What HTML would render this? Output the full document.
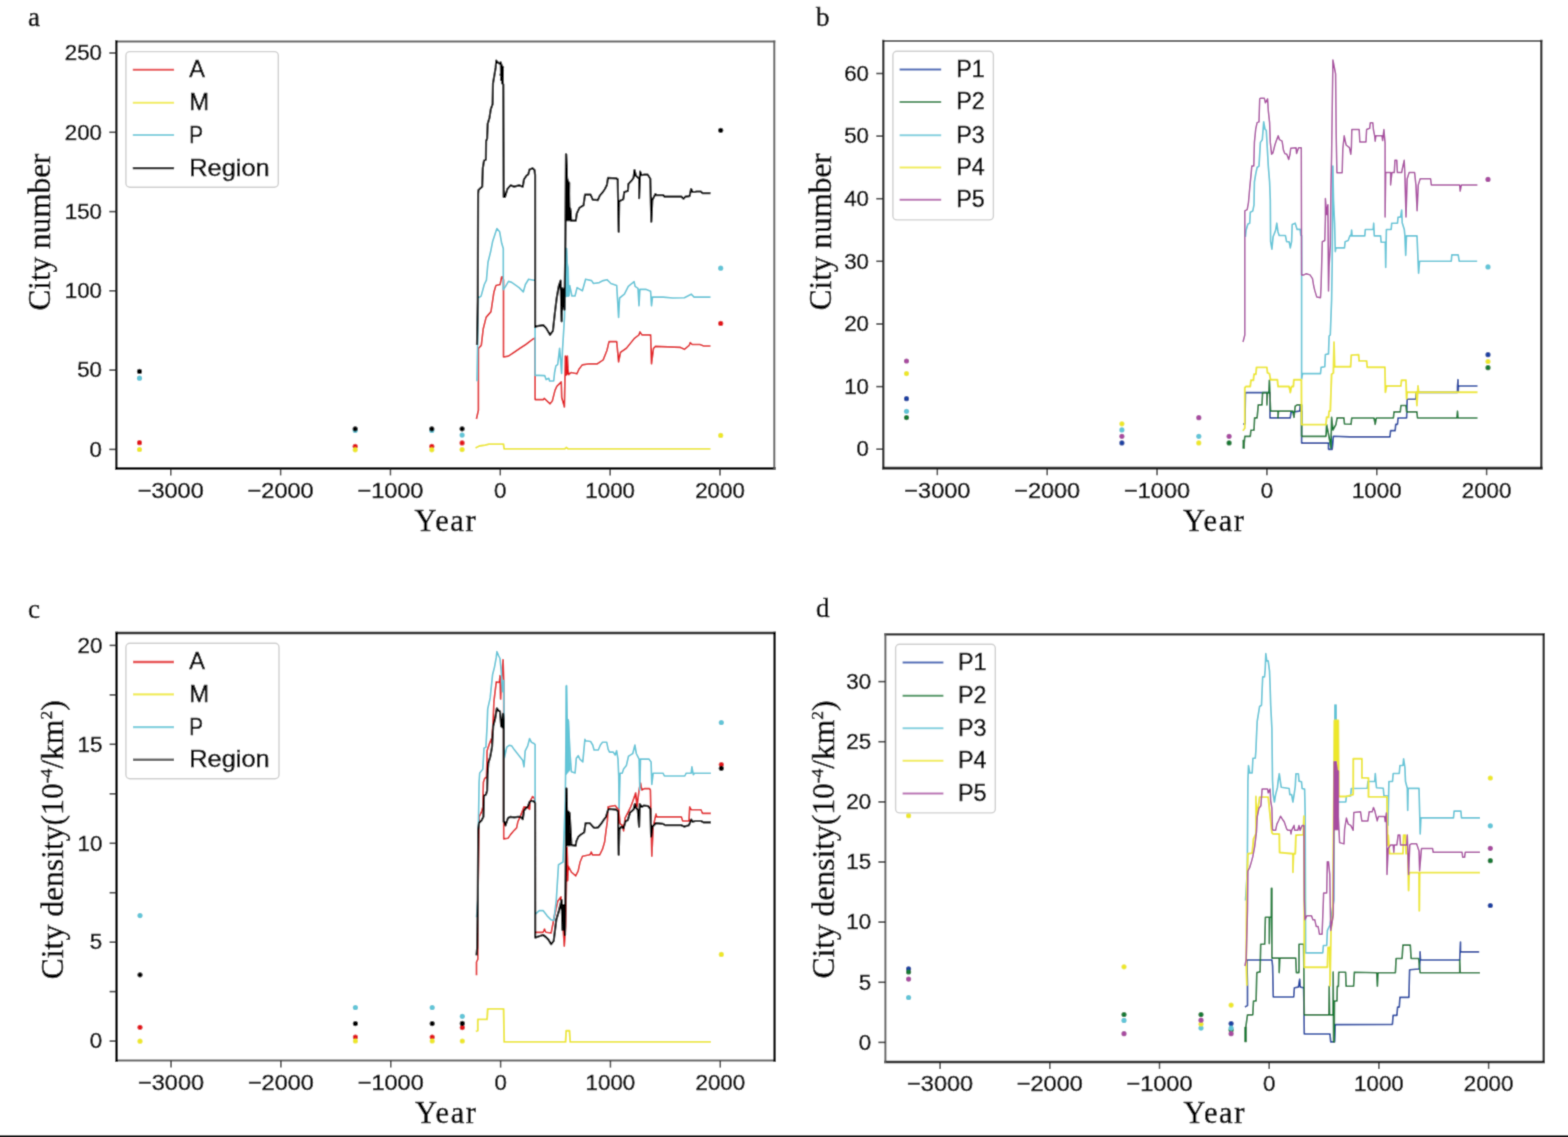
<!DOCTYPE html>
<html><head><meta charset="utf-8"><title>City number and density</title>
<style>html,body{margin:0;padding:0;background:#fff;}svg{display:block;}</style>
</head><body>
<svg width="1568" height="1137" viewBox="0 0 1568 1137" >
<rect width="1568" height="1137" fill="#fff"/>
<defs><filter id="soft" filterUnits="userSpaceOnUse" x="0" y="0" width="1568" height="1137"><feConvolveMatrix order="3" kernelMatrix="1 5 1 5 22 5 1 5 1" divisor="46" edgeMode="duplicate"/></filter></defs>
<g filter="url(#soft)"><rect width="1568" height="1137" fill="#fff"/>
<polyline points="476.4,419.0 478.4,410.2 478.4,348.3 481.3,345.4 483.2,329.0 486.1,317.4 491.0,311.6 493.9,292.2 495.9,285.5 500.1,284.5 501.6,276.8 502.7,277.1 503.5,280.0 503.5,357.0 508.4,356.1 514.2,352.2 520.0,348.3 525.8,344.5 533.5,338.7 535.1,338.0 535.1,399.6 543.2,399.6 544.3,398.4 550.1,403.8 552.3,401.0 555.0,390.4 556.8,386.3 561.3,381.9 561.7,397.5 564.4,406.9 565.4,356.1 566.5,370.0 567.4,356.0 568.0,368.9 568.8,374.7 571.1,372.5 576.9,373.8 579.1,368.9 582.2,364.9 589.6,363.8 597.4,363.8 603.2,359.9 607.0,350.3 609.0,341.6 616.7,341.6 618.6,361.9 620.6,352.2 626.4,348.3 634.1,338.7 639.0,334.8 639.9,331.9 641.9,334.8 650.6,334.8 651.5,363.8 653.5,348.3 655.4,346.4 680.5,347.4 684.4,349.3 689.2,345.4 690.2,342.5 692.2,344.5 699.9,344.5 703.8,346.0 710.5,346.0" fill="none" stroke="#e2181b" stroke-width="1.65" stroke-linejoin="round" stroke-linecap="butt"/>
<polygon points="565.2,356.0 566.6,356.0 567.6,366.0 568.4,374.0 566.0,376.0" fill="#e2181b" stroke="#e2181b" stroke-width="0.6" stroke-linejoin="round"/>
<polyline points="475.5,448.0 479.3,446.0 485.1,445.1 489.0,444.1 503.5,444.1 504.1,448.9 564.5,448.9 566.4,447.4 568.3,448.9 710.5,448.9" fill="none" stroke="#ede72a" stroke-width="1.90" stroke-linejoin="round" stroke-linecap="butt"/>
<polyline points="477.0,381.2 478.4,298.0 481.1,296.1 484.3,284.5 486.4,280.2 488.0,262.3 490.6,251.8 492.7,241.2 496.9,228.5 499.6,231.7 501.7,243.3 503.3,248.6 503.3,289.7 505.4,286.6 508.5,281.3 511.7,282.4 519.1,287.6 523.3,291.9 525.4,284.5 528.6,279.2 533.9,280.2 535.1,280.2 535.1,375.4 538.9,375.4 544.7,375.6 546.1,379.6 548.8,378.3 549.6,381.0 553.7,381.0 554.6,372.5 555.9,365.8 557.7,364.5 559.6,348.3 561.6,373.5 562.5,350.0 564.5,317.4 565.4,259.3 566.6,248.6 567.4,267.1 568.3,296.1 569.7,285.5 571.9,296.0 575.0,296.0 577.1,287.6 582.4,290.8 585.6,279.2 591.6,280.6 593.5,283.5 599.3,282.6 603.2,280.6 607.0,279.7 610.9,283.5 616.7,285.5 618.6,317.4 619.6,298.0 624.4,294.2 628.3,286.4 634.1,281.6 635.1,286.4 638.0,288.4 639.0,305.8 639.9,289.3 645.7,289.3 650.6,291.3 651.5,305.8 652.5,297.1 663.1,297.1 672.8,298.0 684.4,297.7 691.2,294.2 694.1,297.1 710.5,297.1" fill="none" stroke="#62c5d7" stroke-width="1.65" stroke-linejoin="round" stroke-linecap="butt"/>
<polygon points="565.6,248.0 566.6,248.0 567.3,262.0 568.5,268.0 569.0,285.0 569.6,296.0 566.0,297.0" fill="#62c5d7" stroke="#62c5d7" stroke-width="0.6" stroke-linejoin="round"/>
<polyline points="477.0,345.0 477.8,300.0 478.1,194.0 478.5,190.0 482.2,186.6 482.8,168.2 484.0,160.8 485.9,159.6 486.1,141.1 487.1,138.6 487.7,123.9 489.5,117.7 490.8,109.1 492.6,104.2 493.0,83.2 494.5,74.6 495.7,67.2 496.3,60.5 497.5,62.3 499.4,63.5 500.6,62.3 501.9,66.0 503.1,67.2 500.5,75.0 502.5,68.0 501.0,80.0 503.0,70.0 502.0,83.0 503.3,84.5 503.7,197.0 505.0,197.0 507.4,189.0 510.5,185.4 514.2,186.6 519.1,185.4 522.8,186.6 524.0,179.3 526.5,175.6 528.3,174.3 529.6,169.4 532.6,168.2 534.5,170.0 535.1,175.0 535.1,327.1 537.4,326.1 543.2,325.1 546.1,328.0 550.0,334.8 552.9,330.9 554.8,313.5 556.7,298.0 558.7,286.4 560.6,280.6 561.6,321.3 562.5,288.4 564.5,309.6 565.4,240.0 566.1,154.3 567.1,180.8 566.5,200.0 568.0,185.0 567.2,215.0 569.2,182.9 568.5,210.0 570.2,208.4 570.7,211.4 571.2,220.6 575.8,220.6 576.8,213.5 579.4,207.9 583.5,205.3 585.0,194.6 590.6,194.6 592.7,199.7 597.8,200.2 599.8,195.6 602.9,192.0 604.9,189.0 606.9,184.9 608.0,177.8 616.1,178.3 617.7,179.3 618.7,231.8 619.2,201.2 623.3,199.2 624.3,192.0 627.9,191.0 628.4,183.9 631.4,180.8 633.5,177.8 634.5,170.1 636.0,175.7 639.1,178.8 639.1,198.2 640.1,171.6 641.6,175.2 643.7,174.7 647.8,174.7 650.3,178.8 651.3,221.6 652.3,200.2 655.4,194.1 656.4,195.1 663.1,195.1 664.6,196.6 681.4,196.6 683.5,198.7 685.5,196.6 689.6,196.1 691.1,189.0 692.7,192.0 694.7,192.0 696.7,191.5 700.8,191.5 702.3,193.1 710.5,193.1" fill="none" stroke="#000000" stroke-width="2.20" stroke-linejoin="round" stroke-linecap="butt"/>
<polygon points="565.3,154.0 566.7,154.0 567.6,178.0 569.5,183.0 570.2,208.0 570.9,213.0 571.0,221.0 566.2,221.0 565.3,221.0" fill="#000000" stroke="#000000" stroke-width="0.6" stroke-linejoin="round"/>
<polygon points="500.0,63.0 501.9,66.0 503.1,67.2 503.6,84.0 501.5,82.0 500.3,72.0" fill="#000000" stroke="#000000" stroke-width="0.6" stroke-linejoin="round"/>
<circle cx="139.5" cy="442.7" r="2.6" fill="#e2181b"/>
<circle cx="139.5" cy="449.5" r="2.6" fill="#ede72a"/>
<circle cx="139.5" cy="378.2" r="2.6" fill="#62c5d7"/>
<circle cx="139.5" cy="371.4" r="2.6" fill="#000000"/>
<circle cx="355.2" cy="446.3" r="2.6" fill="#e2181b"/>
<circle cx="355.2" cy="449.8" r="2.6" fill="#ede72a"/>
<circle cx="355.2" cy="430.5" r="2.6" fill="#62c5d7"/>
<circle cx="355.2" cy="428.8" r="2.6" fill="#000000"/>
<circle cx="431.8" cy="446.3" r="2.6" fill="#e2181b"/>
<circle cx="431.8" cy="449.8" r="2.6" fill="#ede72a"/>
<circle cx="431.8" cy="430.5" r="2.6" fill="#62c5d7"/>
<circle cx="431.8" cy="428.8" r="2.6" fill="#000000"/>
<circle cx="462.1" cy="442.9" r="2.6" fill="#e2181b"/>
<circle cx="462.1" cy="449.6" r="2.6" fill="#ede72a"/>
<circle cx="462.1" cy="435.1" r="2.6" fill="#62c5d7"/>
<circle cx="462.1" cy="428.8" r="2.6" fill="#000000"/>
<circle cx="720.7" cy="323.4" r="2.6" fill="#e2181b"/>
<circle cx="720.7" cy="435.4" r="2.6" fill="#ede72a"/>
<circle cx="720.7" cy="268.2" r="2.6" fill="#62c5d7"/>
<circle cx="720.7" cy="130.3" r="2.6" fill="#000000"/>
<line x1="116.30" y1="41.40" x2="774.30" y2="41.40" stroke="#606060" stroke-width="2.00" stroke-linecap="square"/>
<line x1="116.30" y1="468.40" x2="774.30" y2="468.40" stroke="#000" stroke-width="2.70" stroke-linecap="square"/>
<line x1="116.30" y1="41.40" x2="116.30" y2="468.40" stroke="#000" stroke-width="2.50" stroke-linecap="square"/>
<line x1="774.30" y1="41.40" x2="774.30" y2="468.40" stroke="#606060" stroke-width="2.00" stroke-linecap="square"/>
<line x1="109.30" y1="449.40" x2="116.30" y2="449.40" stroke="#333" stroke-width="1.6"/>
<text x="102.00" y="456.60" style="font-family:&quot;Liberation Sans&quot;,sans-serif;font-size:22.00px" stroke="#000" stroke-width="0.5" text-anchor="end" textLength="12.41" lengthAdjust="spacingAndGlyphs">0</text>
<line x1="109.30" y1="370.10" x2="116.30" y2="370.10" stroke="#333" stroke-width="1.6"/>
<text x="102.00" y="377.30" style="font-family:&quot;Liberation Sans&quot;,sans-serif;font-size:22.00px" stroke="#000" stroke-width="0.5" text-anchor="end" textLength="24.81" lengthAdjust="spacingAndGlyphs">50</text>
<line x1="109.30" y1="290.80" x2="116.30" y2="290.80" stroke="#333" stroke-width="1.6"/>
<text x="102.00" y="298.00" style="font-family:&quot;Liberation Sans&quot;,sans-serif;font-size:22.00px" stroke="#000" stroke-width="0.5" text-anchor="end" textLength="37.22" lengthAdjust="spacingAndGlyphs">100</text>
<line x1="109.30" y1="211.60" x2="116.30" y2="211.60" stroke="#333" stroke-width="1.6"/>
<text x="102.00" y="218.80" style="font-family:&quot;Liberation Sans&quot;,sans-serif;font-size:22.00px" stroke="#000" stroke-width="0.5" text-anchor="end" textLength="37.22" lengthAdjust="spacingAndGlyphs">150</text>
<line x1="109.30" y1="132.30" x2="116.30" y2="132.30" stroke="#333" stroke-width="1.6"/>
<text x="102.00" y="139.50" style="font-family:&quot;Liberation Sans&quot;,sans-serif;font-size:22.00px" stroke="#000" stroke-width="0.5" text-anchor="end" textLength="37.22" lengthAdjust="spacingAndGlyphs">200</text>
<line x1="109.30" y1="53.00" x2="116.30" y2="53.00" stroke="#333" stroke-width="1.6"/>
<text x="102.00" y="60.20" style="font-family:&quot;Liberation Sans&quot;,sans-serif;font-size:22.00px" stroke="#000" stroke-width="0.5" text-anchor="end" textLength="37.22" lengthAdjust="spacingAndGlyphs">250</text>
<line x1="170.75" y1="468.40" x2="170.75" y2="475.40" stroke="#333" stroke-width="1.5"/>
<text x="170.75" y="497.70" style="font-family:&quot;Liberation Sans&quot;,sans-serif;font-size:22.00px" stroke="#000" stroke-width="0.5" text-anchor="middle" textLength="65.97" lengthAdjust="spacingAndGlyphs">−3000</text>
<line x1="280.60" y1="468.40" x2="280.60" y2="475.40" stroke="#333" stroke-width="1.5"/>
<text x="280.60" y="497.70" style="font-family:&quot;Liberation Sans&quot;,sans-serif;font-size:22.00px" stroke="#000" stroke-width="0.5" text-anchor="middle" textLength="65.97" lengthAdjust="spacingAndGlyphs">−2000</text>
<line x1="390.45" y1="468.40" x2="390.45" y2="475.40" stroke="#333" stroke-width="1.5"/>
<text x="390.45" y="497.70" style="font-family:&quot;Liberation Sans&quot;,sans-serif;font-size:22.00px" stroke="#000" stroke-width="0.5" text-anchor="middle" textLength="65.97" lengthAdjust="spacingAndGlyphs">−1000</text>
<line x1="500.30" y1="468.40" x2="500.30" y2="475.40" stroke="#333" stroke-width="1.5"/>
<text x="500.30" y="497.70" style="font-family:&quot;Liberation Sans&quot;,sans-serif;font-size:22.00px" stroke="#000" stroke-width="0.5" text-anchor="middle" textLength="12.41" lengthAdjust="spacingAndGlyphs">0</text>
<line x1="610.15" y1="468.40" x2="610.15" y2="475.40" stroke="#333" stroke-width="1.5"/>
<text x="610.15" y="497.70" style="font-family:&quot;Liberation Sans&quot;,sans-serif;font-size:22.00px" stroke="#000" stroke-width="0.5" text-anchor="middle" textLength="49.63" lengthAdjust="spacingAndGlyphs">1000</text>
<line x1="720.00" y1="468.40" x2="720.00" y2="475.40" stroke="#333" stroke-width="1.5"/>
<text x="720.00" y="497.70" style="font-family:&quot;Liberation Sans&quot;,sans-serif;font-size:22.00px" stroke="#000" stroke-width="0.5" text-anchor="middle" textLength="49.63" lengthAdjust="spacingAndGlyphs">2000</text>
<rect x="125.90" y="51.60" width="152.40" height="135.60" rx="4" ry="4" fill="#fff" fill-opacity="0.8" stroke="#cfcfcf" stroke-width="1.4"/>
<line x1="132.80" y1="69.80" x2="174.10" y2="69.80" stroke="#e2181b" stroke-width="2.00" stroke-opacity="0.8"/>
<text x="189.20" y="77.20" style="font-family:&quot;Liberation Sans&quot;,sans-serif;font-size:24.00px" stroke="#000" stroke-width="0.5" textLength="15.69" lengthAdjust="spacingAndGlyphs">A</text>
<line x1="132.80" y1="102.80" x2="174.10" y2="102.80" stroke="#ede72a" stroke-width="2.00" stroke-opacity="0.8"/>
<text x="189.20" y="110.20" style="font-family:&quot;Liberation Sans&quot;,sans-serif;font-size:24.00px" stroke="#000" stroke-width="0.5" textLength="19.79" lengthAdjust="spacingAndGlyphs">M</text>
<line x1="132.80" y1="135.10" x2="174.10" y2="135.10" stroke="#62c5d7" stroke-width="2.00" stroke-opacity="0.8"/>
<text x="189.20" y="142.50" style="font-family:&quot;Liberation Sans&quot;,sans-serif;font-size:24.00px" stroke="#000" stroke-width="0.5" textLength="13.83" lengthAdjust="spacingAndGlyphs">P</text>
<line x1="132.80" y1="168.10" x2="174.10" y2="168.10" stroke="#000000" stroke-width="2.40"/>
<text x="189.20" y="175.50" style="font-family:&quot;Liberation Sans&quot;,sans-serif;font-size:24.00px" stroke="#000" stroke-width="0.5" textLength="80.46" lengthAdjust="spacingAndGlyphs">Region</text>
<polyline points="1243.0,424.0 1245.0,424.0 1245.4,392.6 1270.0,392.6 1270.0,417.9 1290.3,417.9 1290.9,412.3 1299.6,411.1 1300.2,406.2 1300.8,411.1 1301.6,411.1 1301.6,443.1 1328.5,443.1 1328.5,449.3 1332.2,449.3 1333.4,436.3 1350.0,436.9 1390.0,436.9 1390.6,430.6 1395.2,430.6 1395.7,424.3 1397.5,424.3 1398.0,418.0 1406.6,418.0 1407.2,399.2 1415.7,399.2 1416.3,392.3 1457.5,392.3 1457.5,386.0 1458.0,379.7 1458.2,392.0 1458.5,386.0 1477.5,386.0" fill="none" stroke="#1a42a2" stroke-width="1.65" stroke-linejoin="round" stroke-linecap="butt"/>
<polyline points="1243.5,448.0 1244.2,443.1 1244.8,436.3 1250.3,436.3 1250.9,430.2 1254.0,430.2 1254.6,417.9 1257.1,417.9 1258.3,404.9 1262.0,404.9 1262.6,392.6 1266.9,392.6 1266.9,404.9 1267.5,392.6 1268.8,392.6 1269.4,380.3 1270.6,411.1 1278.0,411.1 1278.0,417.9 1278.5,411.1 1292.8,411.1 1294.0,417.3 1295.2,406.2 1297.1,404.9 1300.2,404.9 1301.6,404.9 1301.6,436.3 1326.0,436.3 1326.6,424.6 1327.9,430.8 1331.0,448.0 1331.6,417.3 1333.0,430.0 1335.9,424.6 1337.1,417.9 1343.9,417.9 1344.5,424.0 1351.1,424.3 1351.7,418.0 1374.0,418.0 1375.2,424.3 1376.3,418.0 1393.4,418.0 1394.0,411.8 1400.3,411.8 1400.9,405.5 1406.0,405.5 1406.6,411.8 1416.9,411.8 1417.5,418.0 1456.9,418.0 1457.5,411.2 1458.0,418.0 1477.5,418.0" fill="none" stroke="#167a34" stroke-width="1.65" stroke-linejoin="round" stroke-linecap="butt"/>
<polygon points="1242.8,440.0 1244.6,440.0 1244.6,448.5 1242.8,448.5" fill="#167a34" stroke="#167a34" stroke-width="0.6" stroke-linejoin="round"/>
<polyline points="1245.4,236.8 1246.0,230.6 1247.9,223.9 1249.7,223.2 1250.3,212.2 1252.8,210.9 1254.0,204.8 1254.4,182.0 1255.7,174.1 1257.1,167.5 1259.0,166.1 1260.4,142.4 1262.3,139.7 1263.7,121.9 1265.0,129.2 1266.3,130.5 1268.3,166.1 1269.6,182.0 1270.3,200.0 1270.6,241.7 1271.9,249.1 1273.1,236.8 1275.5,230.6 1276.8,223.2 1278.0,231.9 1279.2,235.5 1285.4,235.5 1286.6,241.7 1289.1,241.7 1290.3,247.9 1291.6,241.7 1292.2,224.5 1295.2,223.2 1297.1,229.4 1300.2,229.4 1300.8,235.5 1301.6,235.5 1301.6,379.1 1302.6,373.6 1320.5,373.6 1321.1,367.4 1324.8,366.8 1325.4,354.5 1328.5,353.9 1329.1,336.0 1330.3,334.8 1331.6,300.0 1332.2,263.9 1332.9,166.1 1333.5,200.0 1334.6,223.2 1335.3,251.6 1335.9,247.9 1344.5,247.9 1345.1,241.7 1348.2,240.5 1350.0,235.5 1351.1,235.9 1351.6,230.0 1352.1,235.9 1364.8,235.9 1365.3,229.5 1373.2,229.5 1373.7,223.2 1374.3,235.9 1380.6,235.9 1381.1,242.2 1385.3,242.2 1385.7,267.5 1386.4,229.5 1391.2,229.5 1391.7,223.2 1397.5,223.2 1398.0,217.4 1400.6,216.9 1401.7,210.0 1402.2,222.7 1404.3,229.5 1404.9,235.9 1405.7,255.4 1406.5,235.9 1417.0,235.9 1418.1,261.7 1418.6,273.3 1419.6,261.2 1451.3,261.2 1451.8,254.8 1458.2,254.8 1459.2,261.2 1477.2,261.2" fill="none" stroke="#62c5d7" stroke-width="1.65" stroke-linejoin="round" stroke-linecap="butt"/>
<polyline points="1242.9,430.8 1244.8,428.3 1244.8,387.7 1246.0,386.5 1250.3,386.5 1250.9,380.3 1253.4,380.3 1254.0,374.2 1255.9,374.2 1256.5,367.4 1266.9,367.4 1267.5,372.9 1269.4,373.6 1270.6,379.7 1277.4,379.7 1278.0,386.5 1289.1,386.5 1290.3,392.6 1291.6,386.5 1293.4,386.5 1293.8,379.7 1301.4,379.7 1301.6,424.6 1326.0,424.6 1326.6,417.3 1328.5,417.3 1329.1,411.1 1330.3,411.1 1331.6,374.2 1333.4,372.9 1334.0,342.2 1334.6,366.8 1335.9,366.8 1350.6,366.8 1351.3,355.1 1358.6,354.6 1359.1,360.9 1366.6,360.9 1367.2,367.2 1384.9,367.2 1385.4,392.3 1386.6,386.0 1400.9,386.0 1401.5,380.3 1406.0,380.3 1406.6,398.6 1407.2,392.3 1416.3,392.3 1416.9,405.5 1418.0,386.0 1418.6,392.3 1477.5,392.3" fill="none" stroke="#ede72a" stroke-width="1.90" stroke-linejoin="round" stroke-linecap="butt"/>
<polyline points="1243.0,342.0 1244.8,335.0 1244.8,210.9 1247.2,209.7 1248.5,202.3 1249.8,187.3 1251.1,174.1 1251.8,166.1 1253.8,166.1 1254.4,142.4 1255.7,129.2 1257.1,122.6 1259.0,121.9 1259.7,98.8 1260.4,98.2 1264.3,98.2 1265.4,102.8 1267.6,98.8 1268.3,110.7 1269.6,122.6 1270.3,142.4 1271.6,154.3 1272.9,153.0 1274.9,145.0 1276.2,141.1 1278.2,135.8 1279.5,139.7 1282.1,141.1 1283.5,150.3 1284.8,153.6 1286.8,154.3 1288.7,159.5 1290.0,154.3 1290.7,148.3 1296.0,147.7 1296.6,153.6 1298.6,147.7 1301.3,147.7 1301.6,274.9 1303.9,274.9 1306.3,273.7 1310.0,274.9 1312.5,278.6 1313.7,286.0 1314.9,290.9 1316.8,297.1 1320.5,297.7 1321.1,286.0 1322.3,241.7 1324.8,240.5 1325.4,218.3 1325.4,198.6 1326.6,214.6 1327.9,204.8 1328.5,291.0 1329.1,266.3 1330.3,245.4 1330.9,190.0 1331.6,155.6 1332.9,59.9 1335.6,73.8 1336.2,134.5 1336.9,172.7 1342.2,172.7 1342.8,149.0 1344.2,135.8 1346.1,145.0 1349.4,147.7 1350.8,154.3 1351.4,147.7 1351.8,129.5 1359.2,129.5 1359.8,141.9 1366.0,141.9 1366.6,129.5 1369.7,128.3 1370.3,122.8 1372.8,122.8 1373.4,129.5 1374.6,135.7 1375.2,141.2 1375.9,135.7 1382.0,135.7 1382.6,140.6 1383.9,129.5 1385.1,143.1 1385.1,217.0 1385.7,172.6 1390.6,172.6 1390.6,184.9 1391.9,172.6 1394.3,172.6 1394.9,160.3 1396.8,160.3 1397.4,172.6 1401.7,172.6 1402.3,168.9 1404.2,160.3 1404.8,172.6 1406.0,217.0 1407.2,178.8 1409.1,172.6 1414.6,172.6 1415.9,184.9 1417.1,210.8 1418.3,184.9 1420.2,178.8 1430.6,178.8 1431.3,184.9 1459.6,184.9 1460.2,191.1 1461.4,184.9 1477.4,184.9" fill="none" stroke="#a84ca0" stroke-width="1.50" stroke-linejoin="round" stroke-linecap="butt"/>
<circle cx="906.5" cy="398.7" r="2.6" fill="#1a42a2"/>
<circle cx="906.5" cy="411.3" r="2.6" fill="#62c5d7"/>
<circle cx="906.5" cy="417.6" r="2.6" fill="#167a34"/>
<circle cx="906.5" cy="373.6" r="2.6" fill="#ede72a"/>
<circle cx="906.5" cy="361.0" r="2.6" fill="#a84ca0"/>
<circle cx="1121.9" cy="442.9" r="2.6" fill="#1a42a2"/>
<circle cx="1121.9" cy="429.9" r="2.6" fill="#62c5d7"/>
<circle cx="1121.9" cy="423.8" r="2.6" fill="#ede72a"/>
<circle cx="1121.9" cy="436.3" r="2.6" fill="#a84ca0"/>
<circle cx="1198.8" cy="436.3" r="2.6" fill="#62c5d7"/>
<circle cx="1198.8" cy="442.9" r="2.6" fill="#ede72a"/>
<circle cx="1198.8" cy="417.7" r="2.6" fill="#a84ca0"/>
<circle cx="1229.1" cy="442.9" r="2.6" fill="#167a34"/>
<circle cx="1229.1" cy="436.3" r="2.6" fill="#a84ca0"/>
<circle cx="1488.0" cy="354.7" r="2.6" fill="#1a42a2"/>
<circle cx="1488.0" cy="367.7" r="2.6" fill="#167a34"/>
<circle cx="1488.0" cy="266.9" r="2.6" fill="#62c5d7"/>
<circle cx="1488.0" cy="361.5" r="2.6" fill="#ede72a"/>
<circle cx="1488.0" cy="179.4" r="2.6" fill="#a84ca0"/>
<line x1="883.30" y1="41.00" x2="1541.30" y2="41.00" stroke="#606060" stroke-width="2.00" stroke-linecap="square"/>
<line x1="883.30" y1="468.20" x2="1541.30" y2="468.20" stroke="#000" stroke-width="2.70" stroke-linecap="square"/>
<line x1="883.30" y1="41.00" x2="883.30" y2="468.20" stroke="#222" stroke-width="2.30" stroke-linecap="square"/>
<line x1="1541.30" y1="41.00" x2="1541.30" y2="468.20" stroke="#222" stroke-width="2.30" stroke-linecap="square"/>
<line x1="876.30" y1="449.20" x2="883.30" y2="449.20" stroke="#333" stroke-width="1.6"/>
<text x="869.00" y="456.40" style="font-family:&quot;Liberation Sans&quot;,sans-serif;font-size:22.00px" stroke="#000" stroke-width="0.5" text-anchor="end" textLength="12.41" lengthAdjust="spacingAndGlyphs">0</text>
<line x1="876.30" y1="386.60" x2="883.30" y2="386.60" stroke="#333" stroke-width="1.6"/>
<text x="869.00" y="393.80" style="font-family:&quot;Liberation Sans&quot;,sans-serif;font-size:22.00px" stroke="#000" stroke-width="0.5" text-anchor="end" textLength="24.81" lengthAdjust="spacingAndGlyphs">10</text>
<line x1="876.30" y1="324.00" x2="883.30" y2="324.00" stroke="#333" stroke-width="1.6"/>
<text x="869.00" y="331.20" style="font-family:&quot;Liberation Sans&quot;,sans-serif;font-size:22.00px" stroke="#000" stroke-width="0.5" text-anchor="end" textLength="24.81" lengthAdjust="spacingAndGlyphs">20</text>
<line x1="876.30" y1="261.30" x2="883.30" y2="261.30" stroke="#333" stroke-width="1.6"/>
<text x="869.00" y="268.50" style="font-family:&quot;Liberation Sans&quot;,sans-serif;font-size:22.00px" stroke="#000" stroke-width="0.5" text-anchor="end" textLength="24.81" lengthAdjust="spacingAndGlyphs">30</text>
<line x1="876.30" y1="198.70" x2="883.30" y2="198.70" stroke="#333" stroke-width="1.6"/>
<text x="869.00" y="205.90" style="font-family:&quot;Liberation Sans&quot;,sans-serif;font-size:22.00px" stroke="#000" stroke-width="0.5" text-anchor="end" textLength="24.81" lengthAdjust="spacingAndGlyphs">40</text>
<line x1="876.30" y1="136.10" x2="883.30" y2="136.10" stroke="#333" stroke-width="1.6"/>
<text x="869.00" y="143.30" style="font-family:&quot;Liberation Sans&quot;,sans-serif;font-size:22.00px" stroke="#000" stroke-width="0.5" text-anchor="end" textLength="24.81" lengthAdjust="spacingAndGlyphs">50</text>
<line x1="876.30" y1="73.50" x2="883.30" y2="73.50" stroke="#333" stroke-width="1.6"/>
<text x="869.00" y="80.70" style="font-family:&quot;Liberation Sans&quot;,sans-serif;font-size:22.00px" stroke="#000" stroke-width="0.5" text-anchor="end" textLength="24.81" lengthAdjust="spacingAndGlyphs">60</text>
<line x1="937.35" y1="468.20" x2="937.35" y2="475.20" stroke="#333" stroke-width="1.5"/>
<text x="937.35" y="497.50" style="font-family:&quot;Liberation Sans&quot;,sans-serif;font-size:22.00px" stroke="#000" stroke-width="0.5" text-anchor="middle" textLength="65.97" lengthAdjust="spacingAndGlyphs">−3000</text>
<line x1="1047.20" y1="468.20" x2="1047.20" y2="475.20" stroke="#333" stroke-width="1.5"/>
<text x="1047.20" y="497.50" style="font-family:&quot;Liberation Sans&quot;,sans-serif;font-size:22.00px" stroke="#000" stroke-width="0.5" text-anchor="middle" textLength="65.97" lengthAdjust="spacingAndGlyphs">−2000</text>
<line x1="1157.05" y1="468.20" x2="1157.05" y2="475.20" stroke="#333" stroke-width="1.5"/>
<text x="1157.05" y="497.50" style="font-family:&quot;Liberation Sans&quot;,sans-serif;font-size:22.00px" stroke="#000" stroke-width="0.5" text-anchor="middle" textLength="65.97" lengthAdjust="spacingAndGlyphs">−1000</text>
<line x1="1266.90" y1="468.20" x2="1266.90" y2="475.20" stroke="#333" stroke-width="1.5"/>
<text x="1266.90" y="497.50" style="font-family:&quot;Liberation Sans&quot;,sans-serif;font-size:22.00px" stroke="#000" stroke-width="0.5" text-anchor="middle" textLength="12.41" lengthAdjust="spacingAndGlyphs">0</text>
<line x1="1376.75" y1="468.20" x2="1376.75" y2="475.20" stroke="#333" stroke-width="1.5"/>
<text x="1376.75" y="497.50" style="font-family:&quot;Liberation Sans&quot;,sans-serif;font-size:22.00px" stroke="#000" stroke-width="0.5" text-anchor="middle" textLength="49.63" lengthAdjust="spacingAndGlyphs">1000</text>
<line x1="1486.60" y1="468.20" x2="1486.60" y2="475.20" stroke="#333" stroke-width="1.5"/>
<text x="1486.60" y="497.50" style="font-family:&quot;Liberation Sans&quot;,sans-serif;font-size:22.00px" stroke="#000" stroke-width="0.5" text-anchor="middle" textLength="49.63" lengthAdjust="spacingAndGlyphs">2000</text>
<rect x="892.90" y="51.30" width="100.50" height="168.60" rx="4" ry="4" fill="#fff" fill-opacity="0.8" stroke="#cfcfcf" stroke-width="1.4"/>
<line x1="899.60" y1="69.50" x2="941.20" y2="69.50" stroke="#1a42a2" stroke-width="2.00" stroke-opacity="0.8"/>
<text x="956.20" y="76.90" style="font-family:&quot;Liberation Sans&quot;,sans-serif;font-size:24.00px" stroke="#000" stroke-width="0.5" textLength="28.43" lengthAdjust="spacingAndGlyphs">P1</text>
<line x1="899.60" y1="102.00" x2="941.20" y2="102.00" stroke="#167a34" stroke-width="2.00" stroke-opacity="0.8"/>
<text x="956.20" y="109.40" style="font-family:&quot;Liberation Sans&quot;,sans-serif;font-size:24.00px" stroke="#000" stroke-width="0.5" textLength="28.43" lengthAdjust="spacingAndGlyphs">P2</text>
<line x1="899.60" y1="135.20" x2="941.20" y2="135.20" stroke="#62c5d7" stroke-width="2.00" stroke-opacity="0.8"/>
<text x="956.20" y="142.60" style="font-family:&quot;Liberation Sans&quot;,sans-serif;font-size:24.00px" stroke="#000" stroke-width="0.5" textLength="28.43" lengthAdjust="spacingAndGlyphs">P3</text>
<line x1="899.60" y1="167.40" x2="941.20" y2="167.40" stroke="#ede72a" stroke-width="2.00" stroke-opacity="0.8"/>
<text x="956.20" y="174.80" style="font-family:&quot;Liberation Sans&quot;,sans-serif;font-size:24.00px" stroke="#000" stroke-width="0.5" textLength="28.43" lengthAdjust="spacingAndGlyphs">P4</text>
<line x1="899.60" y1="199.80" x2="941.20" y2="199.80" stroke="#a84ca0" stroke-width="2.00" stroke-opacity="0.8"/>
<text x="956.20" y="207.20" style="font-family:&quot;Liberation Sans&quot;,sans-serif;font-size:24.00px" stroke="#000" stroke-width="0.5" textLength="28.43" lengthAdjust="spacingAndGlyphs">P5</text>
<polyline points="476.5,975.2 476.5,962.0 477.8,959.4 478.0,900.0 479.1,816.8 481.5,811.9 482.8,806.9 483.4,782.3 484.6,778.6 486.5,776.7 487.1,750.8 489.5,743.4 492.0,737.3 493.2,718.8 493.9,701.6 495.1,691.7 496.3,681.9 498.2,682.5 499.4,681.9 500.0,675.7 500.6,699.1 501.2,683.1 503.1,659.7 503.7,680.6 503.7,838.9 508.0,838.3 510.5,834.6 514.2,830.3 516.6,827.9 517.9,821.7 519.1,819.2 524.0,806.9 526.5,806.9 529.6,809.4 530.2,800.8 532.6,796.5 533.9,797.7 535.2,800.0 535.2,932.3 543.1,932.3 544.5,929.0 545.8,932.3 551.1,933.0 552.4,926.4 555.0,913.2 557.7,901.3 561.0,896.8 564.3,946.2 565.6,926.4 566.2,900.0 567.1,847.6 567.7,880.8 568.3,866.0 571.4,872.2 575.7,875.9 578.2,870.9 580.0,862.3 582.5,856.2 589.8,854.8 591.3,852.0 592.5,854.8 599.7,854.8 602.5,849.2 604.6,842.1 606.0,830.9 607.4,821.0 608.1,806.9 615.2,805.5 617.3,808.3 618.7,808.3 620.1,823.8 622.2,825.2 623.6,830.9 625.0,818.2 627.8,812.6 630.7,806.9 632.8,801.3 635.6,792.9 637.0,806.9 639.1,790.0 640.5,783.0 641.9,790.0 644.7,788.6 649.6,788.6 650.4,790.0 651.8,856.2 653.2,826.6 656.0,814.0 656.7,816.8 681.3,816.8 682.7,821.0 689.0,821.0 689.7,806.9 691.2,809.7 701.0,809.7 702.4,813.3 710.9,813.3" fill="none" stroke="#e2181b" stroke-width="1.65" stroke-linejoin="round" stroke-linecap="butt"/>
<polygon points="566.0,847.0 567.5,847.0 568.0,866.0 566.2,880.0" fill="#e2181b" stroke="#e2181b" stroke-width="0.6" stroke-linejoin="round"/>
<polyline points="475.8,1031.3 477.8,1030.7 477.8,1019.4 487.1,1019.4 487.7,1008.9 503.6,1008.9 504.2,1041.9 565.6,1041.9 566.2,1030.7 569.5,1030.7 570.2,1041.9 710.9,1041.9" fill="none" stroke="#ede72a" stroke-width="1.90" stroke-linejoin="round" stroke-linecap="butt"/>
<polyline points="476.5,917.2 477.8,900.0 478.2,830.0 478.5,819.2 479.1,782.3 479.7,773.0 482.8,769.3 484.0,748.3 485.9,747.1 487.1,726.2 487.7,708.9 490.2,697.9 490.8,691.7 492.6,674.5 494.5,667.1 496.3,657.2 496.9,651.7 498.8,656.0 500.0,658.5 501.2,670.8 502.5,691.7 503.7,680.6 504.3,758.2 506.8,747.1 509.2,745.3 511.7,745.9 514.2,749.6 519.1,755.7 522.8,760.6 524.0,766.8 525.2,750.8 527.7,745.9 529.6,738.5 531.4,742.2 533.9,743.4 535.1,744.6 535.2,914.5 539.2,910.6 543.1,910.6 547.1,915.8 551.1,919.8 553.7,920.5 555.0,910.6 556.3,900.0 558.5,864.8 563.0,862.0 565.3,800.0 566.5,685.5 567.1,718.8 568.3,720.0 570.2,755.7 571.4,771.7 575.1,773.0 576.3,758.2 578.2,755.7 580.0,759.4 582.8,761.9 584.9,739.4 585.6,740.8 590.6,741.5 592.7,745.0 594.1,750.0 598.3,750.0 600.4,745.0 602.5,742.2 606.7,742.2 608.1,749.2 609.5,752.1 613.1,752.1 615.2,754.9 616.6,750.7 618.0,759.1 618.7,776.0 619.1,808.3 620.1,773.2 622.2,773.2 623.6,769.0 626.4,765.4 628.5,756.3 630.7,754.9 632.8,753.5 634.9,745.0 636.3,753.5 637.7,756.3 639.1,759.1 639.8,790.0 640.5,759.1 648.9,759.1 651.1,761.9 651.8,784.4 653.2,773.2 663.0,773.2 664.4,776.0 684.8,776.0 686.2,773.2 691.2,773.2 691.9,766.8 693.3,774.6 694.7,773.2 710.9,773.2" fill="none" stroke="#62c5d7" stroke-width="1.65" stroke-linejoin="round" stroke-linecap="butt"/>
<polygon points="565.8,686.0 566.8,686.0 567.2,718.0 568.8,721.0 569.5,750.0 570.2,770.0 566.0,775.0" fill="#62c5d7" stroke="#62c5d7" stroke-width="0.6" stroke-linejoin="round"/>
<polyline points="476.5,955.4 477.2,947.5 477.8,900.0 478.2,830.0 479.1,822.9 481.5,820.5 483.4,816.8 484.0,795.9 485.9,794.6 487.1,790.9 487.5,775.0 488.3,763.1 490.2,757.0 492.0,747.1 493.2,726.2 495.1,718.8 496.9,708.3 498.8,710.8 500.0,711.4 501.2,726.2 502.5,727.4 503.1,713.9 503.7,720.0 503.7,821.7 504.3,821.7 505.5,825.4 508.0,818.0 510.5,816.8 514.2,817.4 517.9,816.8 520.3,816.8 522.8,819.2 524.0,810.6 525.9,808.2 527.7,806.9 529.6,802.0 531.4,800.8 533.9,801.4 535.1,803.2 535.2,937.6 539.2,936.3 543.1,935.0 545.8,937.0 548.4,939.6 551.1,944.2 553.7,940.9 556.3,919.8 559.0,910.6 561.6,900.0 562.5,930.0 563.5,905.0 565.0,935.0 566.5,788.5 567.5,830.0 568.3,811.9 569.6,813.1 570.8,834.0 571.4,845.1 575.7,845.7 576.3,841.4 578.2,837.1 580.0,835.2 584.2,832.3 585.6,823.1 589.8,823.1 593.4,827.3 594.8,828.0 598.3,827.3 601.1,823.8 603.9,819.6 606.0,816.8 608.1,809.7 609.5,809.0 615.9,809.7 618.0,811.2 618.7,854.8 619.4,829.4 621.5,826.6 623.6,828.0 625.7,821.0 627.8,820.3 630.0,812.6 633.5,809.7 634.9,804.1 636.3,808.3 637.7,809.7 639.1,826.6 639.8,804.1 641.9,806.9 644.0,805.5 648.2,806.2 650.4,809.0 651.1,836.5 652.5,826.6 656.0,823.1 663.0,823.8 665.1,825.2 681.3,825.2 684.1,826.6 689.0,825.2 691.2,819.6 692.6,821.7 695.4,821.0 701.0,821.0 703.8,822.4 710.9,822.4" fill="none" stroke="#000000" stroke-width="2.20" stroke-linejoin="round" stroke-linecap="butt"/>
<polygon points="565.8,788.0 566.8,788.0 567.5,810.0 569.3,812.0 570.0,835.0 570.6,846.0 566.0,846.0" fill="#000000" stroke="#000000" stroke-width="0.6" stroke-linejoin="round"/>
<circle cx="140.0" cy="1027.3" r="2.6" fill="#e2181b"/>
<circle cx="140.0" cy="1041.2" r="2.6" fill="#ede72a"/>
<circle cx="140.0" cy="915.6" r="2.6" fill="#62c5d7"/>
<circle cx="140.0" cy="974.8" r="2.6" fill="#000000"/>
<circle cx="355.4" cy="1037.0" r="2.6" fill="#e2181b"/>
<circle cx="355.4" cy="1041.0" r="2.6" fill="#ede72a"/>
<circle cx="355.4" cy="1007.5" r="2.6" fill="#62c5d7"/>
<circle cx="355.4" cy="1023.6" r="2.6" fill="#000000"/>
<circle cx="432.2" cy="1037.0" r="2.6" fill="#e2181b"/>
<circle cx="432.2" cy="1041.0" r="2.6" fill="#ede72a"/>
<circle cx="432.2" cy="1007.5" r="2.6" fill="#62c5d7"/>
<circle cx="432.2" cy="1023.6" r="2.6" fill="#000000"/>
<circle cx="462.3" cy="1027.6" r="2.6" fill="#e2181b"/>
<circle cx="462.3" cy="1041.0" r="2.6" fill="#ede72a"/>
<circle cx="462.3" cy="1016.3" r="2.6" fill="#62c5d7"/>
<circle cx="462.3" cy="1023.4" r="2.6" fill="#000000"/>
<circle cx="721.3" cy="764.5" r="2.6" fill="#e2181b"/>
<circle cx="721.3" cy="954.4" r="2.6" fill="#ede72a"/>
<circle cx="721.3" cy="722.5" r="2.6" fill="#62c5d7"/>
<circle cx="721.3" cy="768.3" r="2.6" fill="#000000"/>
<line x1="116.60" y1="633.00" x2="774.60" y2="633.00" stroke="#000" stroke-width="2.50" stroke-linecap="square"/>
<line x1="116.60" y1="1060.60" x2="774.60" y2="1060.60" stroke="#606060" stroke-width="2.00" stroke-linecap="square"/>
<line x1="116.60" y1="633.00" x2="116.60" y2="1060.60" stroke="#000" stroke-width="2.70" stroke-linecap="square"/>
<line x1="774.60" y1="633.00" x2="774.60" y2="1060.60" stroke="#000" stroke-width="2.50" stroke-linecap="square"/>
<line x1="109.60" y1="1041.10" x2="116.60" y2="1041.10" stroke="#333" stroke-width="1.6"/>
<text x="102.30" y="1048.30" style="font-family:&quot;Liberation Sans&quot;,sans-serif;font-size:22.00px" stroke="#000" stroke-width="0.5" text-anchor="end" textLength="12.41" lengthAdjust="spacingAndGlyphs">0</text>
<line x1="109.60" y1="942.20" x2="116.60" y2="942.20" stroke="#333" stroke-width="1.6"/>
<text x="102.30" y="949.40" style="font-family:&quot;Liberation Sans&quot;,sans-serif;font-size:22.00px" stroke="#000" stroke-width="0.5" text-anchor="end" textLength="12.41" lengthAdjust="spacingAndGlyphs">5</text>
<line x1="109.60" y1="843.30" x2="116.60" y2="843.30" stroke="#333" stroke-width="1.6"/>
<text x="102.30" y="850.50" style="font-family:&quot;Liberation Sans&quot;,sans-serif;font-size:22.00px" stroke="#000" stroke-width="0.5" text-anchor="end" textLength="24.81" lengthAdjust="spacingAndGlyphs">10</text>
<line x1="109.60" y1="744.30" x2="116.60" y2="744.30" stroke="#333" stroke-width="1.6"/>
<text x="102.30" y="751.50" style="font-family:&quot;Liberation Sans&quot;,sans-serif;font-size:22.00px" stroke="#000" stroke-width="0.5" text-anchor="end" textLength="24.81" lengthAdjust="spacingAndGlyphs">15</text>
<line x1="109.60" y1="645.40" x2="116.60" y2="645.40" stroke="#333" stroke-width="1.6"/>
<text x="102.30" y="652.60" style="font-family:&quot;Liberation Sans&quot;,sans-serif;font-size:22.00px" stroke="#000" stroke-width="0.5" text-anchor="end" textLength="24.81" lengthAdjust="spacingAndGlyphs">20</text>
<line x1="109.60" y1="991.60" x2="116.60" y2="991.60" stroke="#333" stroke-width="1.6"/>
<line x1="109.60" y1="892.70" x2="116.60" y2="892.70" stroke="#333" stroke-width="1.6"/>
<line x1="109.60" y1="793.80" x2="116.60" y2="793.80" stroke="#333" stroke-width="1.6"/>
<line x1="109.60" y1="694.90" x2="116.60" y2="694.90" stroke="#333" stroke-width="1.6"/>
<line x1="171.05" y1="1060.60" x2="171.05" y2="1067.60" stroke="#333" stroke-width="1.5"/>
<text x="171.05" y="1089.90" style="font-family:&quot;Liberation Sans&quot;,sans-serif;font-size:22.00px" stroke="#000" stroke-width="0.5" text-anchor="middle" textLength="65.97" lengthAdjust="spacingAndGlyphs">−3000</text>
<line x1="280.90" y1="1060.60" x2="280.90" y2="1067.60" stroke="#333" stroke-width="1.5"/>
<text x="280.90" y="1089.90" style="font-family:&quot;Liberation Sans&quot;,sans-serif;font-size:22.00px" stroke="#000" stroke-width="0.5" text-anchor="middle" textLength="65.97" lengthAdjust="spacingAndGlyphs">−2000</text>
<line x1="390.75" y1="1060.60" x2="390.75" y2="1067.60" stroke="#333" stroke-width="1.5"/>
<text x="390.75" y="1089.90" style="font-family:&quot;Liberation Sans&quot;,sans-serif;font-size:22.00px" stroke="#000" stroke-width="0.5" text-anchor="middle" textLength="65.97" lengthAdjust="spacingAndGlyphs">−1000</text>
<line x1="500.60" y1="1060.60" x2="500.60" y2="1067.60" stroke="#333" stroke-width="1.5"/>
<text x="500.60" y="1089.90" style="font-family:&quot;Liberation Sans&quot;,sans-serif;font-size:22.00px" stroke="#000" stroke-width="0.5" text-anchor="middle" textLength="12.41" lengthAdjust="spacingAndGlyphs">0</text>
<line x1="610.45" y1="1060.60" x2="610.45" y2="1067.60" stroke="#333" stroke-width="1.5"/>
<text x="610.45" y="1089.90" style="font-family:&quot;Liberation Sans&quot;,sans-serif;font-size:22.00px" stroke="#000" stroke-width="0.5" text-anchor="middle" textLength="49.63" lengthAdjust="spacingAndGlyphs">1000</text>
<line x1="720.30" y1="1060.60" x2="720.30" y2="1067.60" stroke="#333" stroke-width="1.5"/>
<text x="720.30" y="1089.90" style="font-family:&quot;Liberation Sans&quot;,sans-serif;font-size:22.00px" stroke="#000" stroke-width="0.5" text-anchor="middle" textLength="49.63" lengthAdjust="spacingAndGlyphs">2000</text>
<rect x="125.90" y="643.20" width="153.10" height="135.60" rx="4" ry="4" fill="#fff" fill-opacity="0.8" stroke="#cfcfcf" stroke-width="1.4"/>
<line x1="133.00" y1="662.00" x2="174.00" y2="662.00" stroke="#e2181b" stroke-width="2.40" stroke-opacity="0.8"/>
<text x="189.20" y="669.40" style="font-family:&quot;Liberation Sans&quot;,sans-serif;font-size:24.00px" stroke="#000" stroke-width="0.5" textLength="15.69" lengthAdjust="spacingAndGlyphs">A</text>
<line x1="133.00" y1="694.40" x2="174.00" y2="694.40" stroke="#ede72a" stroke-width="2.40" stroke-opacity="0.8"/>
<text x="189.20" y="701.80" style="font-family:&quot;Liberation Sans&quot;,sans-serif;font-size:24.00px" stroke="#000" stroke-width="0.5" textLength="19.79" lengthAdjust="spacingAndGlyphs">M</text>
<line x1="133.00" y1="727.10" x2="174.00" y2="727.10" stroke="#62c5d7" stroke-width="2.40" stroke-opacity="0.8"/>
<text x="189.20" y="734.50" style="font-family:&quot;Liberation Sans&quot;,sans-serif;font-size:24.00px" stroke="#000" stroke-width="0.5" textLength="13.83" lengthAdjust="spacingAndGlyphs">P</text>
<line x1="133.00" y1="759.70" x2="174.00" y2="759.70" stroke="#666" stroke-width="2.40"/>
<text x="189.20" y="767.10" style="font-family:&quot;Liberation Sans&quot;,sans-serif;font-size:24.00px" stroke="#000" stroke-width="0.5" textLength="80.46" lengthAdjust="spacingAndGlyphs">Region</text>
<polyline points="1244.9,1006.9 1247.5,1005.6 1247.5,986.4 1246.9,960.0 1248.2,960.0 1272.0,960.0 1272.6,966.0 1273.3,997.0 1293.7,997.0 1294.4,987.8 1298.3,987.1 1299.7,979.2 1300.3,987.1 1303.6,987.8 1304.3,1034.0 1330.0,1034.0 1330.7,1041.9 1334.6,1041.9 1335.3,1024.7 1392.4,1024.4 1393.1,1015.4 1396.9,1015.4 1397.6,1007.1 1399.3,1007.1 1399.9,997.4 1408.9,997.4 1409.6,969.8 1419.3,969.0 1420.1,960.0 1420.1,951.8 1420.5,960.0 1459.7,960.0 1460.5,942.1 1460.5,951.8 1479.2,951.8" fill="none" stroke="#1a42a2" stroke-width="1.65" stroke-linejoin="round" stroke-linecap="butt"/>
<polyline points="1245.6,1041.9 1245.6,1028.7 1247.5,1014.8 1252.8,1014.8 1253.5,1001.0 1256.1,1001.0 1256.8,972.6 1260.1,971.9 1260.7,944.2 1264.7,944.2 1265.4,917.2 1269.3,917.2 1269.3,943.6 1269.8,917.2 1271.3,917.2 1271.4,888.2 1271.9,888.2 1271.9,958.1 1273.3,958.1 1279.2,958.1 1279.2,972.6 1279.8,958.1 1295.7,958.1 1296.4,972.6 1299.0,972.6 1299.0,944.2 1303.6,944.2 1304.3,1014.8 1328.9,1014.8 1329.2,986.4 1329.6,1014.8 1333.0,1014.8 1333.2,972.0 1333.6,1041.9 1334.2,1041.9 1334.5,1001.0 1337.0,1001.0 1337.3,986.4 1338.4,986.4 1338.7,972.2 1345.6,972.2 1346.1,986.2 1353.6,986.2 1354.4,972.2 1376.7,972.7 1377.4,986.2 1378.0,972.7 1395.4,972.7 1396.1,958.5 1402.1,958.5 1402.9,945.1 1410.3,945.1 1411.1,958.5 1418.6,958.5 1420.1,972.7 1459.7,972.7 1459.7,960.0 1460.3,972.7 1480.0,972.7" fill="none" stroke="#167a34" stroke-width="1.65" stroke-linejoin="round" stroke-linecap="butt"/>
<polygon points="1244.6,1027.0 1246.6,1027.0 1246.6,1042.0 1244.6,1042.0" fill="#167a34" stroke="#167a34" stroke-width="0.6" stroke-linejoin="round"/>
<polyline points="1245.5,900.5 1247.3,871.0 1247.9,781.1 1248.5,765.6 1249.8,773.0 1252.2,773.0 1252.9,758.2 1255.3,758.2 1255.9,750.8 1256.5,736.0 1257.2,721.3 1258.4,713.9 1259.6,706.5 1261.5,705.2 1262.1,690.5 1262.7,676.9 1264.5,676.9 1265.2,669.5 1265.8,653.5 1266.8,660.9 1268.2,660.9 1269.5,670.8 1270.1,685.5 1270.7,705.2 1271.9,728.6 1272.5,780.0 1273.2,794.6 1274.4,802.0 1275.6,794.6 1277.5,787.2 1278.1,781.1 1279.3,773.7 1280.5,782.3 1281.2,787.2 1289.2,788.5 1289.8,794.6 1291.6,794.6 1292.9,802.0 1294.1,794.6 1295.3,786.0 1295.9,773.7 1298.4,773.7 1299.0,781.1 1301.5,781.7 1302.1,788.5 1304.6,789.1 1305.2,814.3 1305.6,952.8 1322.8,952.8 1323.4,945.5 1326.7,945.5 1327.4,930.4 1330.0,925.0 1333.9,900.0 1334.9,705.0 1336.1,705.0 1336.5,790.0 1338.4,802.0 1345.8,802.0 1346.4,796.5 1350.7,795.9 1351.3,788.5 1367.3,788.3 1367.9,781.5 1374.7,781.5 1375.3,773.5 1375.9,781.5 1376.5,787.7 1383.3,788.3 1383.9,795.7 1387.0,795.7 1388.0,825.2 1388.9,781.5 1392.5,781.5 1393.2,773.5 1399.3,773.5 1399.9,765.5 1403.0,765.5 1403.6,758.8 1404.9,767.4 1405.5,781.5 1407.3,788.3 1407.7,810.5 1408.2,788.3 1419.0,788.3 1419.6,810.5 1420.2,833.9 1420.9,817.9 1453.5,817.9 1454.1,811.1 1460.9,811.1 1461.5,817.9 1480.0,817.9" fill="none" stroke="#62c5d7" stroke-width="1.65" stroke-linejoin="round" stroke-linecap="butt"/>
<polyline points="1246.9,985.8 1246.2,962.0 1246.7,888.2 1247.9,853.7 1252.2,853.1 1253.5,838.9 1255.9,834.0 1255.9,796.5 1256.5,819.2 1259.6,797.1 1268.2,797.1 1270.1,815.5 1271.9,832.8 1273.2,834.0 1279.3,834.0 1279.6,852.5 1292.9,853.7 1292.9,872.2 1293.5,853.7 1295.3,853.7 1295.9,835.2 1303.3,834.6 1303.9,816.2 1304.3,900.0 1304.3,967.3 1327.4,967.3 1328.0,947.5 1330.0,947.5 1330.0,985.8 1331.0,930.0 1332.7,915.8 1334.5,720.4 1338.3,720.4 1338.8,796.5 1345.8,796.5 1351.3,795.2 1353.2,794.6 1353.3,758.8 1361.9,758.8 1361.9,777.9 1368.5,777.9 1368.5,796.9 1387.0,796.9 1387.6,844.9 1388.2,835.1 1389.5,853.6 1403.0,853.6 1403.6,835.1 1405.5,835.1 1406.1,853.6 1408.0,853.6 1408.6,890.5 1409.2,872.6 1419.0,872.6 1419.3,910.7 1419.6,872.6 1480.0,872.6" fill="none" stroke="#ede72a" stroke-width="1.90" stroke-linejoin="round" stroke-linecap="butt"/>
<polygon points="1334.2,720.4 1338.3,720.4 1338.3,772.0 1334.2,772.0" fill="#ede72a" stroke="#ede72a" stroke-width="0.6" stroke-linejoin="round"/>
<polyline points="1244.9,966.0 1246.2,959.4 1247.5,910.0 1247.9,871.0 1249.8,867.3 1251.6,861.1 1252.9,856.2 1254.7,846.3 1256.5,831.6 1257.2,816.8 1259.0,808.2 1260.9,805.7 1262.1,789.1 1267.6,789.1 1268.2,792.8 1270.1,789.1 1270.7,800.8 1271.9,808.2 1272.5,829.1 1273.2,830.3 1275.6,830.3 1276.9,824.2 1278.7,820.5 1280.5,816.2 1282.4,819.2 1284.2,821.7 1286.7,829.1 1287.9,830.3 1290.4,830.3 1291.0,834.0 1291.6,830.3 1294.1,825.4 1294.7,830.3 1297.8,830.3 1299.0,825.4 1300.2,830.3 1302.1,825.4 1303.9,825.4 1304.3,900.0 1305.0,919.8 1306.9,915.8 1311.5,915.8 1312.9,919.8 1314.8,919.8 1316.2,926.4 1318.1,926.4 1319.5,934.3 1322.1,934.3 1323.4,900.0 1323.6,893.1 1326.7,893.1 1327.3,861.7 1328.5,861.7 1329.8,874.6 1330.7,930.4 1333.3,915.0 1334.2,761.7 1336.0,761.7 1337.3,771.0 1338.4,771.0 1338.4,816.8 1339.6,842.6 1344.0,843.9 1344.6,829.1 1346.4,818.0 1348.3,824.2 1350.7,825.4 1353.2,830.3 1353.8,812.5 1360.5,811.7 1361.8,820.9 1367.9,820.9 1369.2,811.7 1372.2,811.7 1373.5,807.4 1374.7,810.5 1377.2,820.9 1378.4,816.6 1384.5,816.6 1385.2,821.6 1386.4,812.9 1387.0,874.5 1388.2,848.6 1390.7,844.9 1393.2,844.9 1393.8,852.3 1394.4,844.9 1396.9,844.9 1398.1,835.1 1399.9,835.1 1400.5,844.9 1406.7,844.9 1407.3,835.1 1408.6,874.5 1409.8,844.9 1411.6,843.7 1416.6,843.7 1419.0,851.1 1419.6,870.8 1421.5,848.6 1432.6,848.6 1433.2,852.3 1462.1,852.3 1462.7,857.3 1464.6,857.3 1465.2,852.3 1480.0,852.3" fill="none" stroke="#a84ca0" stroke-width="1.50" stroke-linejoin="round" stroke-linecap="butt"/>
<polygon points="1334.2,762.0 1336.2,762.0 1336.5,771.0 1338.3,771.0 1338.3,830.0 1334.2,830.0" fill="#a84ca0" stroke="#a84ca0" stroke-width="0.6" stroke-linejoin="round"/>
<circle cx="908.6" cy="968.9" r="2.6" fill="#1a42a2"/>
<circle cx="908.6" cy="972.0" r="2.6" fill="#167a34"/>
<circle cx="908.6" cy="997.5" r="2.6" fill="#62c5d7"/>
<circle cx="908.6" cy="815.7" r="2.6" fill="#ede72a"/>
<circle cx="908.6" cy="979.1" r="2.6" fill="#a84ca0"/>
<circle cx="1124.0" cy="1014.5" r="2.6" fill="#167a34"/>
<circle cx="1124.0" cy="1020.4" r="2.6" fill="#62c5d7"/>
<circle cx="1124.0" cy="966.8" r="2.6" fill="#ede72a"/>
<circle cx="1124.0" cy="1033.7" r="2.6" fill="#a84ca0"/>
<circle cx="1201.0" cy="1028.1" r="2.6" fill="#62c5d7"/>
<circle cx="1201.0" cy="1014.5" r="2.6" fill="#167a34"/>
<circle cx="1201.0" cy="1024.0" r="2.6" fill="#ede72a"/>
<circle cx="1201.0" cy="1020.2" r="2.6" fill="#a84ca0"/>
<circle cx="1231.1" cy="1023.5" r="2.6" fill="#1a42a2"/>
<circle cx="1231.1" cy="1030.0" r="2.6" fill="#167a34"/>
<circle cx="1231.1" cy="1028.1" r="2.6" fill="#62c5d7"/>
<circle cx="1231.1" cy="1005.1" r="2.6" fill="#ede72a"/>
<circle cx="1231.1" cy="1033.7" r="2.6" fill="#a84ca0"/>
<circle cx="1490.3" cy="905.5" r="2.6" fill="#1a42a2"/>
<circle cx="1490.3" cy="860.7" r="2.6" fill="#167a34"/>
<circle cx="1490.3" cy="825.8" r="2.6" fill="#62c5d7"/>
<circle cx="1490.3" cy="778.0" r="2.6" fill="#ede72a"/>
<circle cx="1490.3" cy="848.3" r="2.6" fill="#a84ca0"/>
<line x1="885.40" y1="634.40" x2="1543.70" y2="634.40" stroke="#222" stroke-width="2.30" stroke-linecap="square"/>
<line x1="885.40" y1="1061.90" x2="1543.70" y2="1061.90" stroke="#000" stroke-width="2.50" stroke-linecap="square"/>
<line x1="885.40" y1="634.40" x2="885.40" y2="1061.90" stroke="#606060" stroke-width="2.00" stroke-linecap="square"/>
<line x1="1543.70" y1="634.40" x2="1543.70" y2="1061.90" stroke="#222" stroke-width="2.30" stroke-linecap="square"/>
<line x1="878.40" y1="1042.40" x2="885.40" y2="1042.40" stroke="#333" stroke-width="1.6"/>
<text x="871.10" y="1049.60" style="font-family:&quot;Liberation Sans&quot;,sans-serif;font-size:22.00px" stroke="#000" stroke-width="0.5" text-anchor="end" textLength="12.41" lengthAdjust="spacingAndGlyphs">0</text>
<line x1="878.40" y1="982.30" x2="885.40" y2="982.30" stroke="#333" stroke-width="1.6"/>
<text x="871.10" y="989.50" style="font-family:&quot;Liberation Sans&quot;,sans-serif;font-size:22.00px" stroke="#000" stroke-width="0.5" text-anchor="end" textLength="12.41" lengthAdjust="spacingAndGlyphs">5</text>
<line x1="878.40" y1="922.10" x2="885.40" y2="922.10" stroke="#333" stroke-width="1.6"/>
<text x="871.10" y="929.30" style="font-family:&quot;Liberation Sans&quot;,sans-serif;font-size:22.00px" stroke="#000" stroke-width="0.5" text-anchor="end" textLength="24.81" lengthAdjust="spacingAndGlyphs">10</text>
<line x1="878.40" y1="862.00" x2="885.40" y2="862.00" stroke="#333" stroke-width="1.6"/>
<text x="871.10" y="869.20" style="font-family:&quot;Liberation Sans&quot;,sans-serif;font-size:22.00px" stroke="#000" stroke-width="0.5" text-anchor="end" textLength="24.81" lengthAdjust="spacingAndGlyphs">15</text>
<line x1="878.40" y1="801.90" x2="885.40" y2="801.90" stroke="#333" stroke-width="1.6"/>
<text x="871.10" y="809.10" style="font-family:&quot;Liberation Sans&quot;,sans-serif;font-size:22.00px" stroke="#000" stroke-width="0.5" text-anchor="end" textLength="24.81" lengthAdjust="spacingAndGlyphs">20</text>
<line x1="878.40" y1="741.70" x2="885.40" y2="741.70" stroke="#333" stroke-width="1.6"/>
<text x="871.10" y="748.90" style="font-family:&quot;Liberation Sans&quot;,sans-serif;font-size:22.00px" stroke="#000" stroke-width="0.5" text-anchor="end" textLength="24.81" lengthAdjust="spacingAndGlyphs">25</text>
<line x1="878.40" y1="681.60" x2="885.40" y2="681.60" stroke="#333" stroke-width="1.6"/>
<text x="871.10" y="688.80" style="font-family:&quot;Liberation Sans&quot;,sans-serif;font-size:22.00px" stroke="#000" stroke-width="0.5" text-anchor="end" textLength="24.81" lengthAdjust="spacingAndGlyphs">30</text>
<line x1="940.10" y1="1061.90" x2="940.10" y2="1068.90" stroke="#333" stroke-width="1.5"/>
<text x="940.10" y="1091.20" style="font-family:&quot;Liberation Sans&quot;,sans-serif;font-size:22.00px" stroke="#000" stroke-width="0.5" text-anchor="middle" textLength="65.97" lengthAdjust="spacingAndGlyphs">−3000</text>
<line x1="1049.80" y1="1061.90" x2="1049.80" y2="1068.90" stroke="#333" stroke-width="1.5"/>
<text x="1049.80" y="1091.20" style="font-family:&quot;Liberation Sans&quot;,sans-serif;font-size:22.00px" stroke="#000" stroke-width="0.5" text-anchor="middle" textLength="65.97" lengthAdjust="spacingAndGlyphs">−2000</text>
<line x1="1159.50" y1="1061.90" x2="1159.50" y2="1068.90" stroke="#333" stroke-width="1.5"/>
<text x="1159.50" y="1091.20" style="font-family:&quot;Liberation Sans&quot;,sans-serif;font-size:22.00px" stroke="#000" stroke-width="0.5" text-anchor="middle" textLength="65.97" lengthAdjust="spacingAndGlyphs">−1000</text>
<line x1="1269.20" y1="1061.90" x2="1269.20" y2="1068.90" stroke="#333" stroke-width="1.5"/>
<text x="1269.20" y="1091.20" style="font-family:&quot;Liberation Sans&quot;,sans-serif;font-size:22.00px" stroke="#000" stroke-width="0.5" text-anchor="middle" textLength="12.41" lengthAdjust="spacingAndGlyphs">0</text>
<line x1="1378.90" y1="1061.90" x2="1378.90" y2="1068.90" stroke="#333" stroke-width="1.5"/>
<text x="1378.90" y="1091.20" style="font-family:&quot;Liberation Sans&quot;,sans-serif;font-size:22.00px" stroke="#000" stroke-width="0.5" text-anchor="middle" textLength="49.63" lengthAdjust="spacingAndGlyphs">1000</text>
<line x1="1488.60" y1="1061.90" x2="1488.60" y2="1068.90" stroke="#333" stroke-width="1.5"/>
<text x="1488.60" y="1091.20" style="font-family:&quot;Liberation Sans&quot;,sans-serif;font-size:22.00px" stroke="#000" stroke-width="0.5" text-anchor="middle" textLength="49.63" lengthAdjust="spacingAndGlyphs">2000</text>
<rect x="895.60" y="644.30" width="99.70" height="168.60" rx="4" ry="4" fill="#fff" fill-opacity="0.8" stroke="#cfcfcf" stroke-width="1.4"/>
<line x1="902.60" y1="662.50" x2="943.40" y2="662.50" stroke="#1a42a2" stroke-width="2.00" stroke-opacity="0.8"/>
<text x="957.90" y="669.90" style="font-family:&quot;Liberation Sans&quot;,sans-serif;font-size:24.00px" stroke="#000" stroke-width="0.5" textLength="28.43" lengthAdjust="spacingAndGlyphs">P1</text>
<line x1="902.60" y1="695.80" x2="943.40" y2="695.80" stroke="#167a34" stroke-width="2.00" stroke-opacity="0.8"/>
<text x="957.90" y="703.20" style="font-family:&quot;Liberation Sans&quot;,sans-serif;font-size:24.00px" stroke="#000" stroke-width="0.5" textLength="28.43" lengthAdjust="spacingAndGlyphs">P2</text>
<line x1="902.60" y1="728.20" x2="943.40" y2="728.20" stroke="#62c5d7" stroke-width="2.00" stroke-opacity="0.8"/>
<text x="957.90" y="735.60" style="font-family:&quot;Liberation Sans&quot;,sans-serif;font-size:24.00px" stroke="#000" stroke-width="0.5" textLength="28.43" lengthAdjust="spacingAndGlyphs">P3</text>
<line x1="902.60" y1="760.70" x2="943.40" y2="760.70" stroke="#ede72a" stroke-width="2.00" stroke-opacity="0.8"/>
<text x="957.90" y="768.10" style="font-family:&quot;Liberation Sans&quot;,sans-serif;font-size:24.00px" stroke="#000" stroke-width="0.5" textLength="28.43" lengthAdjust="spacingAndGlyphs">P4</text>
<line x1="902.60" y1="793.60" x2="943.40" y2="793.60" stroke="#a84ca0" stroke-width="2.00" stroke-opacity="0.8"/>
<text x="957.90" y="801.00" style="font-family:&quot;Liberation Sans&quot;,sans-serif;font-size:24.00px" stroke="#000" stroke-width="0.5" textLength="28.43" lengthAdjust="spacingAndGlyphs">P5</text>
<text transform="translate(49.80,310.60) rotate(-90)" x="0" y="0" style="font-family:&quot;Liberation Serif&quot;,serif;font-size:31px" stroke="#000" stroke-width="0.5" textLength="157.00" lengthAdjust="spacingAndGlyphs">City number</text>
<text transform="translate(830.70,310.30) rotate(-90)" x="0" y="0" style="font-family:&quot;Liberation Serif&quot;,serif;font-size:31px" stroke="#000" stroke-width="0.5" textLength="157.00" lengthAdjust="spacingAndGlyphs">City number</text>
<text transform="translate(62.50,979.30) rotate(-90)" x="0" y="0" style="font-family:&quot;Liberation Serif&quot;,serif;font-size:31px" stroke="#000" stroke-width="0.5" textLength="279.00" lengthAdjust="spacingAndGlyphs">City density(10<tspan dy="-11" style="font-size:17px">-4</tspan><tspan dy="11">/km</tspan><tspan dy="-11" style="font-size:17px">2</tspan><tspan dy="11">)</tspan></text>
<text transform="translate(834.20,978.60) rotate(-90)" x="0" y="0" style="font-family:&quot;Liberation Serif&quot;,serif;font-size:31px" stroke="#000" stroke-width="0.5" textLength="278.00" lengthAdjust="spacingAndGlyphs">City density(10<tspan dy="-11" style="font-size:17px">-4</tspan><tspan dy="11">/km</tspan><tspan dy="-11" style="font-size:17px">2</tspan><tspan dy="11">)</tspan></text>
<text x="445.10" y="530.50" style="font-family:&quot;Liberation Serif&quot;,serif;font-size:30.50px" stroke="#000" stroke-width="0.5" text-anchor="middle" textLength="61.00" lengthAdjust="spacing">Year</text>
<text x="1213.50" y="530.50" style="font-family:&quot;Liberation Serif&quot;,serif;font-size:30.50px" stroke="#000" stroke-width="0.5" text-anchor="middle" textLength="61.00" lengthAdjust="spacing">Year</text>
<text x="445.50" y="1122.90" style="font-family:&quot;Liberation Serif&quot;,serif;font-size:30.50px" stroke="#000" stroke-width="0.5" text-anchor="middle" textLength="61.00" lengthAdjust="spacing">Year</text>
<text x="1213.90" y="1122.90" style="font-family:&quot;Liberation Serif&quot;,serif;font-size:30.50px" stroke="#000" stroke-width="0.5" text-anchor="middle" textLength="61.00" lengthAdjust="spacing">Year</text>
<text x="28.00" y="25.80" style="font-family:&quot;Liberation Serif&quot;,serif;font-size:27.00px" stroke="#000" stroke-width="0.5">a</text>
<text x="816.00" y="25.80" style="font-family:&quot;Liberation Serif&quot;,serif;font-size:27.00px" stroke="#000" stroke-width="0.5">b</text>
<text x="28.00" y="617.60" style="font-family:&quot;Liberation Serif&quot;,serif;font-size:27.00px" stroke="#000" stroke-width="0.5">c</text>
<text x="816.00" y="617.40" style="font-family:&quot;Liberation Serif&quot;,serif;font-size:27.00px" stroke="#000" stroke-width="0.5">d</text>
<rect x="0" y="1135.3" width="1568" height="1.7" fill="#000"/>
</g>
</svg>
</body></html>
